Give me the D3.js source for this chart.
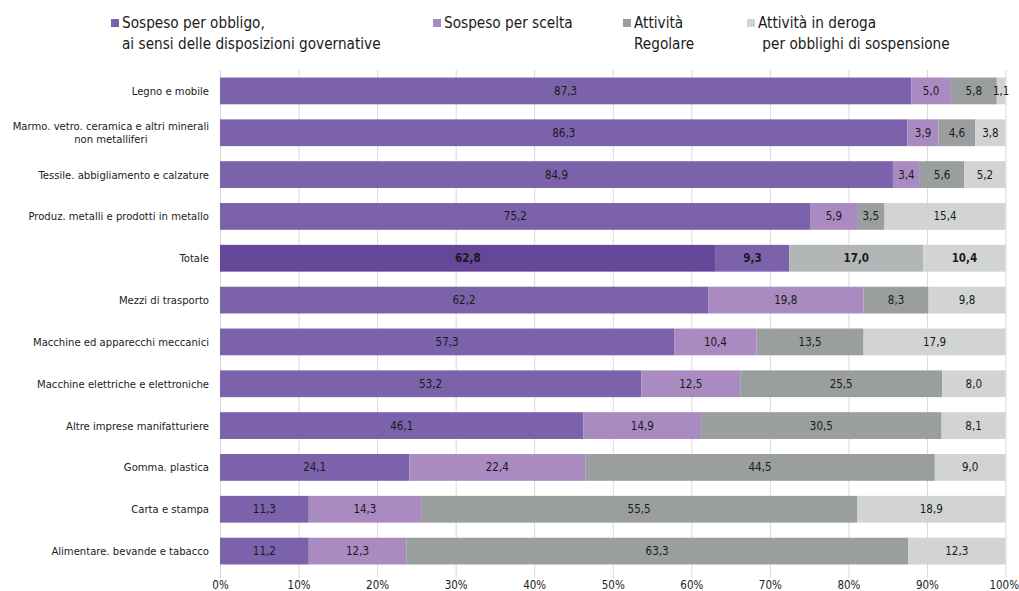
<!DOCTYPE html>
<html><head><meta charset="utf-8">
<script src="https://cdn.jsdelivr.net/npm/d3@7"></script>
<style>body{margin:0;background:#fff}svg{display:block}</style>
</head><body><svg id="c" width="1019" height="591"></svg>
<script>
const categories = [
  "Legno e mobile",
  "Marmo. vetro. ceramica e altri minerali\nnon metalliferi",
  "Tessile. abbigliamento e calzature",
  "Produz. metalli e prodotti in metallo",
  "Totale",
  "Mezzi di trasporto",
  "Macchine ed apparecchi meccanici",
  "Macchine elettriche e elettroniche",
  "Altre imprese manifatturiere",
  "Gomma. plastica",
  "Carta e stampa",
  "Alimentare. bevande e tabacco"
];
const seriesNames = [
  "Sospeso per obbligo,\nai sensi delle disposizioni governative",
  "Sospeso per scelta",
  "Attività\nRegolare",
  "Attività in deroga\n per obblighi di sospensione"
];
const obbligo = [87.3, 86.3, 84.9, 75.2, 62.8, 62.2, 57.3, 53.2, 46.1, 24.1, 11.3, 11.2];
const scelta  = [5.0, 3.9, 3.4, 5.9, 9.3, 19.8, 10.4, 12.5, 14.9, 22.4, 14.3, 12.3];
const regolare = [5.8, 4.6, 5.6, 3.5, 17.0, 8.3, 13.5, 25.5, 30.5, 44.5, 55.5, 63.3];
const deroga  = [1.1, 3.8, 5.2, 15.4, 10.4, 9.8, 17.9, 8.0, 8.1, 9.0, 18.9, 12.3];
const tickValues = [0, 0.1, 0.2, 0.3, 0.4, 0.5, 0.6, 0.7, 0.8, 0.9, 1.0];
const highlight = "Totale";

const colors = ["#7B62AA", "#A98BC2", "#9B9E9E", "#D2D3D3"];
const hiColors = ["#654699", "#7B62AA", "#B3B6B6", "#D2D3D3"];
const FONT = "'DejaVu Sans Condensed','DejaVu Sans',sans-serif";

const keys = ["s0","s1","s2","s3"];
const rows = categories.map((c,i)=>({cat:c, s0:obbligo[i], s1:scelta[i], s2:regolare[i], s3:deroga[i]}));
const stack = d3.stack().keys(keys).offset(d3.stackOffsetExpand)(rows);

const svg = d3.select("#c");
const x = d3.scaleLinear().domain([0,1]).range([220,1005.5]);
const y = d3.scaleBand().domain(categories).range([70,572]).paddingInner(0.36).paddingOuter(0.18);

// gridlines + ticks
const ax = d3.axisBottom(x).tickValues(tickValues).tickFormat(d3.format(".0%")).tickSize(508).tickSizeOuter(0);
const g = svg.append("g").attr("transform","translate(0,70)").call(ax);
g.select(".domain").remove();
g.selectAll(".tick line").attr("stroke","#D9D9D9").attr("stroke-width",1);
g.selectAll(".tick text").attr("font-family",FONT).attr("font-size",11.5).attr("fill","#222").attr("dy",8);
g.selectAll(".tick text").filter(d=>d===1).attr("text-anchor","end").attr("x",13);

// bars
stack.forEach((s,si)=>{
  const gg = svg.append("g");
  gg.selectAll("rect").data(s).join("rect")
    .attr("x",d=>x(d[0])).attr("width",d=>x(d[1])-x(d[0]))
    .attr("y",d=>y(d.data.cat)).attr("height",y.bandwidth())
    .attr("fill",d=>d.data.cat===highlight?hiColors[si]:colors[si]);
  gg.selectAll("text").data(s).join("text")
    .attr("x",d=>(x(d[0])+x(d[1]))/2)
    .attr("y",d=>y(d.data.cat)+y.bandwidth()/2)
    .attr("dy","0.35em").attr("text-anchor","middle")
    .attr("font-family",FONT).attr("font-size",11.5).attr("fill","#1a1a1a")
    .attr("font-weight",d=>d.data.cat===highlight?"bold":"normal")
    .text(d=>d.data[keys[si]].toFixed(1).replace(".",","));
});

// category labels
categories.forEach(c=>{
  const lines = c.split("\n");
  const cy = y(c)+y.bandwidth()/2;
  const lh = 13;
  const t = svg.append("text").attr("font-family",FONT).attr("font-size",11.2).attr("fill","#222");
  const ts = lines.map((l,i)=>t.append("tspan").attr("y",cy+(i-(lines.length-1)/2)*lh).attr("dy","0.35em").text(l));
  const widths = ts.map(s=>s.node().getComputedTextLength());
  const maxW = d3.max(widths);
  const right = 209;
  if(lines.length===1){ ts[0].attr("x",right).attr("text-anchor","end"); }
  else ts.forEach(s=>s.attr("x",right-maxW/2).attr("text-anchor","middle"));
});

// legend
const legX = [111, 433, 623, 747];
seriesNames.forEach((n,i)=>{
  svg.append("rect").attr("x",legX[i]).attr("y",19).attr("width",8).attr("height",8).attr("fill",colors[i]);
  const t = svg.append("text").attr("font-family",FONT).attr("font-size",15.2).attr("fill","#1a1a1a");
  n.split("\n").forEach((l,j)=>{
    t.append("tspan").attr("x",legX[i]+11).attr("y",28+j*21).style("white-space","pre").text(l);
  });
});
</script></body></html>
